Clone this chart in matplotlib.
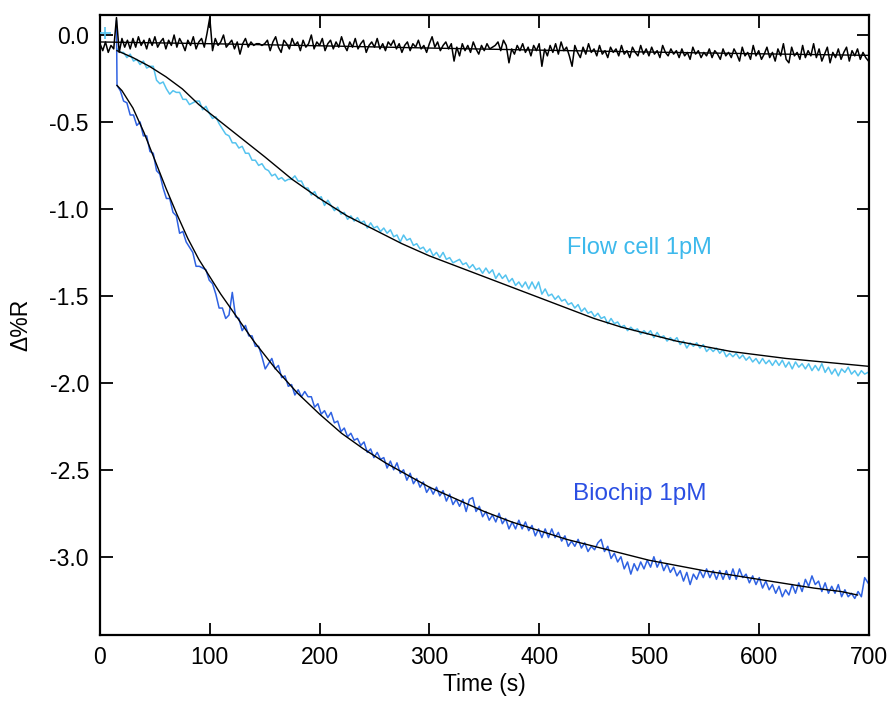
import numpy as np
import matplotlib
matplotlib.use("Agg")
import matplotlib.pyplot as plt

plt.rcParams['font.family'] = ['Liberation Sans', 'DejaVu Sans']
plt.rcParams['axes.unicode_minus'] = False

# ---------------- data ----------------
# Control (black) trace, sampled every 2.5 s from 0 to 700 s
control_t0, control_dt = 0.0, 2.5
control = [
    -0.05, -0.09, -0.04, -0.10, -0.06, -0.08, 0.10, -0.10, -0.02, -0.07,
    -0.03, -0.08, -0.02, -0.07, -0.01, -0.06, -0.03, -0.08, -0.02, -0.06,
    -0.01, -0.07, -0.04, -0.02, -0.08, -0.03, -0.06, 0.00, -0.07, -0.02,
    -0.05, -0.09, -0.03, -0.06, -0.01, -0.08, -0.04, -0.02, -0.07, 0.01,
    0.10, -0.09, -0.02, -0.06, -0.04, 0.00, -0.07, -0.05, -0.03, -0.08,
    -0.04, -0.11, -0.05, -0.02, -0.07, -0.04, -0.06, -0.05, -0.05, -0.06,
    -0.05, -0.03, -0.09, -0.04, -0.01, -0.07, -0.10, -0.03, -0.05, -0.08,
    -0.02, -0.06, -0.04, -0.09, -0.03, -0.07, -0.05, 0.00, -0.08, -0.04,
    -0.06, -0.02, -0.09, -0.05, -0.03, -0.08, -0.04, -0.07, -0.01, -0.06,
    -0.09, -0.04, -0.07, -0.02, -0.08, -0.05, -0.03, -0.10, -0.06, -0.04,
    -0.07, -0.02, -0.08, -0.05, -0.09, -0.04, -0.06, -0.03, -0.08, -0.05,
    -0.10, -0.06, -0.04, -0.09, -0.05, -0.07, -0.03, -0.08, -0.06, -0.10,
    -0.05, -0.01, -0.07, -0.04, -0.09, -0.06, -0.04, -0.08, -0.05, -0.15,
    -0.07, -0.12, -0.05, -0.09, -0.06, -0.10, -0.04, -0.08, -0.11, -0.06,
    -0.09, -0.05, -0.08, -0.07, -0.06, -0.04, -0.09, -0.03, -0.06, -0.16,
    -0.08, -0.11, -0.06, -0.09, -0.05, -0.10, -0.07, -0.12, -0.06, -0.09,
    -0.05, -0.18, -0.08, -0.12, -0.06, -0.10, -0.05, -0.11, -0.04, -0.09,
    -0.07, -0.12, -0.18, -0.06, -0.10, -0.13, -0.07, -0.11, -0.05, -0.10,
    -0.08, -0.12, -0.06, -0.11, -0.09, -0.13, -0.07, -0.10, -0.08, -0.12,
    -0.06, -0.11, -0.09, -0.13, -0.07, -0.10, -0.12, -0.06, -0.11, -0.08,
    -0.12, -0.07, -0.11, -0.09, -0.13, -0.06, -0.10, -0.12, -0.08, -0.11,
    -0.09, -0.13, -0.08, -0.12, -0.10, -0.14, -0.07, -0.11, -0.09, -0.13,
    -0.10, -0.12, -0.08, -0.13, -0.09, -0.11, -0.14, -0.08, -0.12, -0.10,
    -0.13, -0.08, -0.11, -0.15, -0.07, -0.12, -0.10, -0.14, -0.06, -0.12,
    -0.09, -0.14, -0.11, -0.07, -0.13, -0.10, -0.15, -0.08, -0.12, -0.05,
    -0.14, -0.16, -0.07, -0.12, -0.10, -0.14, -0.06, -0.13, -0.09, -0.12,
    -0.05, -0.13, -0.08, -0.15, -0.11, -0.07, -0.16, -0.10, -0.13, -0.08,
    -0.14, -0.10, -0.07, -0.15, -0.09, -0.12, -0.08, -0.14, -0.10, -0.13, -0.15,
]
control_fit_t = [0, 100, 200, 300, 400, 500, 600, 700]
control_fit = [-0.04, -0.05, -0.062, -0.075, -0.087, -0.098, -0.108, -0.117]

# Flow cell 1pM trace, sampled every 3 s from 15.5 s
flow_t0, flow_dt = 15.5, 3.0
flow = [
    -0.08, -0.10, -0.10, -0.13, -0.11, -0.15, -0.14, -0.17, -0.15, -0.19,
    -0.18, -0.18, -0.26, -0.28, -0.27, -0.31, -0.34, -0.32, -0.33, -0.33,
    -0.37, -0.37, -0.40, -0.39, -0.38, -0.38, -0.43, -0.41, -0.45, -0.48,
    -0.47, -0.51, -0.54, -0.57, -0.58, -0.62, -0.62, -0.65, -0.64, -0.68,
    -0.68, -0.72, -0.72, -0.75, -0.74, -0.77, -0.78, -0.81, -0.80, -0.83,
    -0.82, -0.84, -0.83, -0.83, -0.81, -0.84, -0.84, -0.88, -0.88, -0.92,
    -0.90, -0.94, -0.93, -0.98, -0.95, -0.98, -1.01, -0.99, -1.03, -1.02,
    -1.06, -1.04, -1.07, -1.05, -1.08, -1.07, -1.11, -1.08, -1.11, -1.10,
    -1.13, -1.11, -1.14, -1.12, -1.16, -1.15, -1.19, -1.15, -1.18, -1.17,
    -1.21, -1.20, -1.23, -1.22, -1.25, -1.23, -1.27, -1.25, -1.28, -1.25,
    -1.29, -1.28, -1.31, -1.30, -1.29, -1.32, -1.31, -1.34, -1.32, -1.35,
    -1.34, -1.37, -1.34, -1.37, -1.35, -1.40, -1.37, -1.40, -1.38, -1.42,
    -1.40, -1.44, -1.42, -1.45, -1.42, -1.46, -1.42, -1.46, -1.42, -1.49,
    -1.46, -1.50, -1.49, -1.52, -1.50, -1.53, -1.52, -1.55, -1.54, -1.57,
    -1.55, -1.59, -1.57, -1.60, -1.59, -1.62, -1.60, -1.63, -1.62, -1.66,
    -1.63, -1.66, -1.65, -1.68, -1.67, -1.70, -1.68, -1.70, -1.69, -1.72,
    -1.70, -1.72, -1.70, -1.74, -1.71, -1.74, -1.73, -1.76, -1.74, -1.76,
    -1.74, -1.78, -1.76, -1.80, -1.77, -1.79, -1.77, -1.80, -1.78, -1.82,
    -1.80, -1.82, -1.80, -1.83, -1.81, -1.85, -1.83, -1.85, -1.83, -1.86,
    -1.84, -1.87, -1.85, -1.88, -1.86, -1.89, -1.86, -1.89, -1.87, -1.90,
    -1.87, -1.90, -1.87, -1.91, -1.88, -1.92, -1.88, -1.91, -1.89, -1.92,
    -1.89, -1.93, -1.90, -1.93, -1.89, -1.94, -1.91, -1.95, -1.92, -1.96,
    -1.92, -1.94, -1.91, -1.95, -1.93, -1.96, -1.93, -1.95, -1.94,
]
flow_fit_t = [15.5, 30, 45, 60, 75, 90, 110, 130, 150, 175, 200, 225, 250, 275,
              300, 325, 350, 375, 400, 425, 450, 475, 500, 525, 550, 575, 600,
              625, 650, 675, 700]
flow_fit = [-0.09, -0.13, -0.18, -0.24, -0.31, -0.40, -0.50, -0.60, -0.70, -0.83,
            -0.94, -1.04, -1.12, -1.20, -1.27, -1.33, -1.39, -1.45, -1.51, -1.57,
            -1.63, -1.68, -1.72, -1.76, -1.79, -1.82, -1.84, -1.86, -1.875, -1.89,
            -1.905]

# Biochip 1pM trace: injection point, then samples every 3 s from 15.5 s
bio_start_t, bio_start = 15.0, 0.08
bio_t0, bio_dt = 15.5, 3.0
bio = [
    -0.29, -0.32, -0.38, -0.39, -0.46, -0.46, -0.52, -0.50, -0.58, -0.58,
    -0.67, -0.68, -0.78, -0.80, -0.88, -0.94, -0.94, -1.02, -1.04, -1.14,
    -1.13, -1.19, -1.22, -1.25, -1.33, -1.33, -1.34, -1.35, -1.41, -1.43,
    -1.49, -1.57, -1.57, -1.63, -1.61, -1.48, -1.62, -1.63, -1.70, -1.67,
    -1.73, -1.73, -1.79, -1.79, -1.85, -1.92, -1.89, -1.86, -1.92, -1.90,
    -1.97, -1.96, -2.02, -2.01, -2.07, -2.04, -2.08, -2.05, -2.08, -2.08,
    -2.14, -2.12, -2.18, -2.16, -2.20, -2.17, -2.23, -2.22, -2.28, -2.26,
    -2.31, -2.29, -2.33, -2.32, -2.36, -2.34, -2.40, -2.38, -2.43, -2.40,
    -2.44, -2.43, -2.49, -2.45, -2.50, -2.46, -2.52, -2.50, -2.56, -2.52,
    -2.58, -2.55, -2.60, -2.57, -2.63, -2.60, -2.64, -2.60, -2.65, -2.62,
    -2.68, -2.64, -2.70, -2.67, -2.71, -2.67, -2.74, -2.67, -2.66, -2.74,
    -2.71, -2.77, -2.74, -2.79, -2.76, -2.80, -2.75, -2.81, -2.78, -2.84,
    -2.80, -2.84, -2.79, -2.84, -2.80, -2.85, -2.82, -2.88, -2.84, -2.89,
    -2.84, -2.89, -2.84, -2.89, -2.86, -2.91, -2.88, -2.94, -2.91, -2.94,
    -2.90, -2.95, -2.92, -2.97, -2.94, -2.96, -2.92, -2.90, -2.97, -2.94,
    -3.01, -2.98, -3.03, -3.00, -3.07, -3.03, -3.10, -3.04, -3.08, -3.03,
    -3.07, -3.02, -3.06, -3.00, -3.06, -3.02, -3.08, -3.04, -3.09, -3.06,
    -3.11, -3.08, -3.14, -3.09, -3.16, -3.10, -3.13, -3.08, -3.12, -3.07,
    -3.12, -3.08, -3.13, -3.08, -3.13, -3.08, -3.13, -3.07, -3.13, -3.07,
    -3.12, -3.10, -3.15, -3.11, -3.16, -3.12, -3.18, -3.14, -3.19, -3.16,
    -3.21, -3.17, -3.23, -3.19, -3.22, -3.16, -3.21, -3.15, -3.20, -3.13,
    -3.17, -3.11, -3.16, -3.14, -3.20, -3.15, -3.21, -3.17, -3.21, -3.16,
    -3.23, -3.19, -3.23, -3.21, -3.24, -3.20, -3.23, -3.12, -3.15,
]
bio_fit_t = [15.5, 20, 30, 40, 50, 60, 70, 80, 90, 100, 110, 120, 130, 140, 150,
             160, 170, 180, 190, 200, 220, 240, 260, 280, 300, 325, 350, 375, 400,
             425, 450, 475, 500, 525, 550, 575, 600, 625, 650, 675, 690]
bio_fit = [-0.29, -0.32, -0.42, -0.56, -0.72, -0.88, -1.03, -1.17, -1.29, -1.39,
           -1.49, -1.58, -1.67, -1.76, -1.84, -1.92, -1.99, -2.06, -2.12, -2.18,
           -2.29, -2.38, -2.46, -2.53, -2.60, -2.67, -2.74, -2.80, -2.85, -2.90,
           -2.94, -2.98, -3.02, -3.05, -3.08, -3.105, -3.13, -3.155, -3.18, -3.20,
           -3.22]

labels = ["Flow cell 1pM", "Biochip 1pM"]
xticks = [0, 100, 200, 300, 400, 500, 600, 700]
yticks = [0.0, -0.5, -1.0, -1.5, -2.0, -2.5, -3.0]

# ---------------- plotting ----------------
flow_color = "#55c3ef"
flow_text = "#3db9ec"
bio_color = "#2f62e2"
bio_text = "#2b4fe3"

fig = plt.figure(figsize=(8.92, 7.09), dpi=100)
ax = fig.add_axes([100 / 892, 1 - 635 / 709, 768.5 / 892, 620 / 709])

ct = control_t0 + control_dt * np.arange(len(control))
ft = flow_t0 + flow_dt * np.arange(len(flow))
bt = np.concatenate([[bio_start_t], bio_t0 + bio_dt * np.arange(len(bio))])
bv = np.concatenate([[bio_start], bio])

ax.plot(ct, control, color="black", lw=1.1, zorder=3)
ax.plot(ft, flow, color=flow_color, lw=1.1, zorder=2)
ax.plot(bt, bv, color=bio_color, lw=1.1, zorder=2)

ax.plot(control_fit_t, control_fit, color="black", lw=1.0, zorder=4)
ax.plot(flow_fit_t, flow_fit, color="black", lw=1.0, zorder=4)
ax.plot(bio_fit_t, bio_fit, color="black", lw=1.0, zorder=4)
ax.plot([5], [0.01], marker="+", color=flow_color, ms=9, mew=1.2, zorder=5)

ax.text(425, -1.225, labels[0], color=flow_text, fontsize=17,
        ha="left", va="center")
ax.text(431, -2.64, labels[1], color=bio_text, fontsize=17.5,
        ha="left", va="center")

ax.set_xlim(0, 700)
ax.set_ylim(-3.45, 0.115)
ax.set_xticks(xticks)
ax.set_yticks(yticks)
ax.set_xticklabels([str(v) for v in xticks])
ax.set_yticklabels(["%.1f" % v for v in yticks])
ax.tick_params(direction="in", length=9, width=1.3, top=True, right=True,
               labelsize=16.5, pad=8)
for s in ax.spines.values():
    s.set_linewidth(1.6)

ax.set_xlabel("Time (s)", fontsize=16.5, labelpad=3)
ax.set_ylabel("\u0394%R", fontsize=16.5, labelpad=12)

fig.savefig("out.png", dpi=100)
